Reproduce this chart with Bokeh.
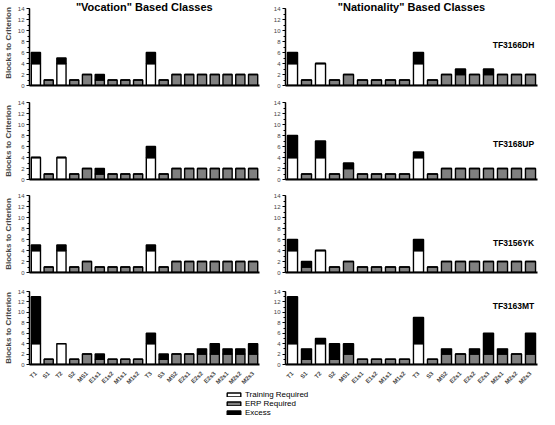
from bokeh.plotting import figure
from bokeh.models import FactorRange, Range1d, SingleIntervalTicker, Legend, LegendItem, ColumnDataSource
from bokeh.layouts import column, row
from bokeh.embed import file_html
from bokeh.resources import INLINE
from bokeh.core.properties import value

FONT = "Liberation Sans"

categories = ["T1", "S1", "T2", "S2", "MS1", "E1s1", "E1s2", "M1s1", "M1s2",
              "T3", "S3", "MS2", "E2s1", "E2s2", "E2s3", "M2s1", "M2s2", "M2s3"]

training_required = [4, 0, 4, 0, 0, 0, 0, 0, 0, 4, 0, 0, 0, 0, 0, 0, 0, 0]
erp_required      = [0, 1, 0, 1, 2, 1, 1, 1, 1, 0, 1, 2, 2, 2, 2, 2, 2, 2]

col_titles = ['"Vocation" Based Classes', '"Nationality" Based Classes']
subjects = ["TF3166DH", "TF3168UP", "TF3156YK", "TF3163MT"]
subject_label_y = [7.4, 6.5, 5.3, 11.3]

# excess blocks per subject (rows) for vocation (left) and nationality (right)
excess_vocation_dh = [2, 0, 1, 0, 0, 1, 0, 0, 0, 2, 0, 0, 0, 0, 0, 0, 0, 0]
excess_nation_dh   = [2, 0, 0, 0, 0, 0, 0, 0, 0, 2, 0, 0, 1, 0, 1, 0, 0, 0]
excess_vocation_up = [0, 0, 0, 0, 0, 1, 0, 0, 0, 2, 0, 0, 0, 0, 0, 0, 0, 0]
excess_nation_up   = [4, 0, 3, 0, 1, 0, 0, 0, 0, 1, 0, 0, 0, 0, 0, 0, 0, 0]
excess_vocation_yk = [1, 0, 1, 0, 0, 0, 0, 0, 0, 1, 0, 0, 0, 0, 0, 0, 0, 0]
excess_nation_yk   = [2, 1, 0, 0, 0, 0, 0, 0, 0, 2, 0, 0, 0, 0, 0, 0, 0, 0]
excess_vocation_mt = [9, 0, 0, 0, 0, 1, 0, 0, 0, 2, 1, 0, 0, 1, 2, 1, 1, 2]
excess_nation_mt   = [9, 2, 1, 3, 2, 0, 0, 0, 0, 5, 0, 1, 0, 1, 4, 1, 0, 4]

excess_rows = [
    (excess_vocation_dh, excess_nation_dh),
    (excess_vocation_up, excess_nation_up),
    (excess_vocation_yk, excess_nation_yk),
    (excess_vocation_mt, excess_nation_mt),
]

series_names = ["Training Required", "ERP Required", "Excess"]
series_colors = ["white", "#808080", "black"]

PX_PER_UNIT = 77 / 14.0
# (top border, frame height, bottom border) per row
row_geom = [(0, 85, 14), (3, 77, 14), (2, 77, 14), (5, 77, 22)]


def make_panel(r, c, excess):
    top_b, frame_h, bot_b = row_geom[r]
    ytop = frame_h / PX_PER_UNIT
    if c == 0:
        width, bl, br = 270, 21, 11
    else:
        width, bl, br = 269, 14, 2
    height = top_b + frame_h + bot_b
    p = figure(width=width, height=height, x_range=FactorRange(factors=categories, range_padding=0),
               y_range=Range1d(0, ytop), toolbar_location=None, output_backend="svg",
               min_border_left=bl, min_border_right=br, min_border_top=top_b, min_border_bottom=bot_b)
    p.outline_line_color = None
    p.xgrid.visible = False
    p.ygrid.visible = False
    src = ColumnDataSource(dict(cat=categories, train=training_required, erp=erp_required, excess=excess))
    p.vbar_stack(["train", "erp", "excess"], x="cat", width=0.72, source=src,
                 fill_color=series_colors, line_color="black", line_width=1.4)

    ya = p.yaxis[0]
    ya.ticker = SingleIntervalTicker(interval=2, num_minor_ticks=2)
    ya.bounds = (0, 14)
    ya.axis_line_width = 1.5
    ya.major_tick_out = 3
    ya.major_tick_in = 0
    ya.minor_tick_out = 2
    ya.minor_tick_in = 0
    ya.major_label_text_font = FONT
    ya.major_label_text_font_size = "6px"
    ya.major_label_standoff = 2
    if c == 0:
        ya.axis_label = "Blocks to Criterion"
        ya.axis_label_text_font = FONT
        ya.axis_label_text_font_size = "8px"
        ya.axis_label_text_font_style = "bold"
        ya.axis_label_standoff = 2

    xa = p.xaxis[0]
    xa.axis_line_width = 2
    xa.major_tick_line_color = None
    xa.minor_tick_line_color = None
    if r == 3:
        xa.major_label_orientation = 0.785398
        xa.major_label_text_font = FONT
        xa.major_label_text_font_size = "6px"
        xa.major_label_text_font_style = "bold"
        xa.major_label_standoff = 2
    else:
        xa.major_label_text_font_size = "0px"
        xa.major_label_text_color = None
        xa.major_label_standoff = 0

    slot = (width - bl - br) / 18.0
    if r == 0:
        p.text(x=["T3"], y=[ytop], text=[col_titles[c]], x_offset=-slot / 2,
               text_align="center", text_baseline="top", text_font=value(FONT),
               text_font_size="11px", text_font_style="bold", text_color="black")
    if c == 1:
        p.text(x=["M2s2"], y=[subject_label_y[r]], text=[subjects[r]], x_offset=-3,
               text_align="center", text_baseline="middle", text_font=value(FONT),
               text_font_size="8.5px", text_font_style="bold", text_color="black")
    return p


rows = []
for r in range(4):
    left = make_panel(r, 0, excess_rows[r][0])
    right = make_panel(r, 1, excess_rows[r][1])
    rows.append(row(left, right, spacing=0))

# legend strip: hidden proxy bars carry the legend swatches
lp = figure(width=539, height=27, x_range=FactorRange(factors=categories, range_padding=0),
            y_range=Range1d(0, 14), x_axis_type=None, y_axis_type=None, toolbar_location=None,
            output_backend="svg", min_border=0, min_border_left=0, min_border_right=0,
            min_border_top=0, min_border_bottom=0)
lp.outline_line_color = None
lp.xgrid.visible = False
lp.ygrid.visible = False
lsrc = ColumnDataSource(dict(cat=categories, train=training_required, erp=erp_required,
                             excess=excess_rows[0][0]))
proxies = lp.vbar_stack(["train", "erp", "excess"], x="cat", width=0.72, source=lsrc,
                        fill_color=series_colors, line_color="black", line_width=1.4)
for pr in proxies:
    pr.visible = False
items = [LegendItem(label=name, renderers=[rr], index=0) for name, rr in zip(series_names, proxies)]
legend = Legend(items=items, location=(225, 0), orientation="vertical", padding=0, spacing=0, margin=0,
                glyph_width=17, glyph_height=5, label_height=8, label_standoff=3,
                label_text_font=FONT, label_text_font_size="8px", label_text_color="black",
                inactive_fill_alpha=0, border_line_color=None, background_fill_alpha=0)
lp.add_layout(legend)

layout = column(*rows, lp, spacing=0)

with open("out.html", "w") as f:
    f.write(file_html(layout, INLINE))
